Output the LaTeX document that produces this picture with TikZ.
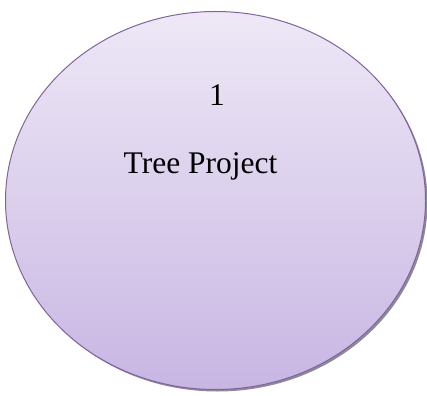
\documentclass[tikz,border=0pt]{standalone}
\usepackage{fontspec}
\setmainfont{Liberation Serif}
\usetikzlibrary{shapes.geometric}
\definecolor{ellborder}{HTML}{8064A2}
\definecolor{elltop}{HTML}{EEE8F6}
\definecolor{ellbottom}{HTML}{C8B6E3}
\tikzset{
  bubble/.style={ellipse, draw=ellborder, line width=1pt, top color=elltop, bottom color=ellbottom, minimum width=420pt, minimum height=378pt, inner sep=0pt},
  bubbleshadow/.style={ellipse, fill=black!45, minimum width=420pt, minimum height=378pt, inner sep=0pt},
  label/.style={font=\fontsize{31.5}{36}\selectfont, inner sep=0pt, anchor=base}
}
\begin{document}
\begin{tikzpicture}[x=1pt,y=-1pt]
\useasboundingbox (0,0) rectangle (427,395);
\node[bubbleshadow] (sh) at (217.5,202.5) {};
\node[bubble] (e) at (215.5,200.5) {};
\node[label] (n1) at (217,106) {1};
\node[label] (t) at (200.5,173) {Tree Project};
\end{tikzpicture}
\end{document}
